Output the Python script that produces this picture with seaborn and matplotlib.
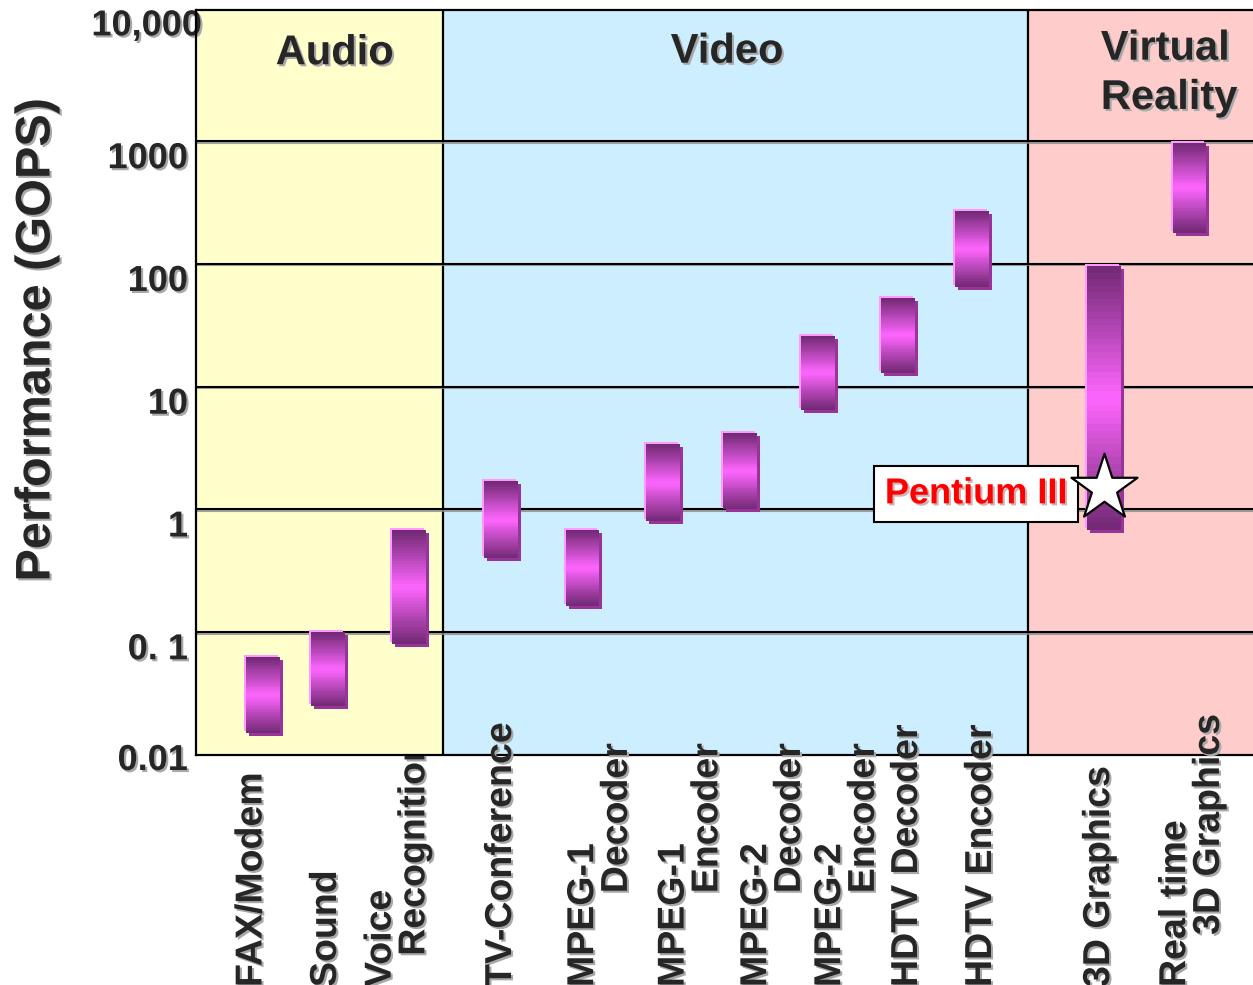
import numpy as np
import matplotlib
matplotlib.use("Agg")
import matplotlib.pyplot as plt
import matplotlib.patheffects as pe
from matplotlib import transforms
from matplotlib.colors import LinearSegmentedColormap
import seaborn as sns

# ---------------------------------------------------------------- data
applications = ["FAX/Modem", "Sound", "Voice\nRecognition", "TV-Conference",
                "MPEG-1\nDecoder", "MPEG-1\nEncoder", "MPEG-2\nDecoder",
                "MPEG-2\nEncoder", "HDTV Decoder", "HDTV Encoder",
                "3D Graphics", "Real time\n3D Graphics"]
gops_low = [0.015, 0.025, 0.08, 0.4, 0.165, 0.8, 1.0, 6.5, 13, 65, 0.68, 180]
gops_high = [0.063, 0.1, 0.68, 1.7, 0.68, 3.4, 4.2, 26, 53, 270, 96, 970]
domains = ["Audio", "Video", "Virtual\nReality"]
ytick_values = [0.01, 0.1, 1, 10, 100, 1000, 10000]
ytick_labels = ["0.01", "0. 1", "1", "10", "100", "1000", "10,000"]
pentium_label = "Pentium III"
pentium_gops = 1.5

# ---------------------------------------------------------------- layout
bar_x = [0.79, 1.56, 2.52, 3.61, 4.57, 5.52, 6.43, 7.36, 8.30, 9.18, 10.74, 11.75]
label_x = [0.656, 1.537, 2.383, 3.607, 4.778, 5.848, 6.824, 7.699, 8.408, 9.283,
           10.679, 11.779]
second_line_indent = [0, 0, 3, 0, 9, 9, 9, 9, 0, 0, 0, 5]   # leading spaces
domain_edges = [0.0, 2.92, 9.84, 12.5]
domain_colors = ["#ffffcc", "#cceeff", "#ffcccc"]
domain_title_pos = [(1.64, 0.942, "center"), (6.28, 0.944, "center"),
                    (10.70, 0.915, "left")]
tick_label_shift = {"10,000": (14, 10), "0.01": (0, 12)}   # pixels
BAR_W = 0.40
FIG_W, FIG_H, DPI = 12.53, 9.85, 100

sns.set_style("white")
plt.rcParams["font.family"] = ["Liberation Sans", "DejaVu Sans"]
plt.rcParams["font.weight"] = "bold"

shadow = [pe.withSimplePatchShadow(offset=(1.5, -1.5), shadow_rgbFace="#a8a8a8",
                                   alpha=1.0)]

fig = plt.figure(figsize=(FIG_W, FIG_H), dpi=DPI)
ax = fig.add_axes([196 / 1253, 230 / 985, 1057 / 1253, 745 / 985])
ax.set_yscale("log")
ax.set_xlim(domain_edges[0], domain_edges[-1])
ax.set_ylim(0.01, 11700)

# domain backgrounds and separators
for i, color in enumerate(domain_colors):
    ax.axvspan(domain_edges[i], domain_edges[i + 1], color=color, zorder=0.5, lw=0)
for xe in domain_edges[1:-1]:
    ax.axvline(xe, color="black", lw=1.6, zorder=1)
for v in ytick_values[1:-1]:
    ax.axhline(v, color="black", lw=1.5, zorder=1,
               path_effects=[pe.SimpleLineShadow(offset=(0, -1), shadow_color="#8a8a8a",
                                                 alpha=0.8), pe.Normal()])

# range bars: offset highlight + shadow, then a banded gradient body
cmap = LinearSegmentedColormap.from_list(
    "bar", ["#742a76", "#b848ba", "#ff66ff", "#b848ba", "#742a76"])
n_bands = 40
for x, lo, hi in zip(bar_x, gops_low, gops_high):
    for color, dx, dy in [("#993399", 3, -3), ("#ff99ff", -2, 2)]:
        off = transforms.offset_copy(ax.transData, fig=fig, x=dx, y=dy, units="dots")
        ax.bar(x, hi - lo, bottom=lo, width=BAR_W, color=color, linewidth=0,
               transform=off, zorder=3)
    edges = np.logspace(np.log10(lo), np.log10(hi), n_bands + 1)
    colors = cmap(np.linspace(0, 1, n_bands))
    ax.bar(np.full(n_bands, x), np.diff(edges), bottom=edges[:-1], width=BAR_W,
           color=colors, linewidth=0, antialiased=False, zorder=4)

# Pentium III marker on the 3D Graphics range
sns.scatterplot(x=[bar_x[10]], y=[pentium_gops], marker="*", s=2500,
                color="white", edgecolor="black", linewidth=1.6, zorder=7,
                ax=ax, legend=False)
ax.annotate(pentium_label, xy=(bar_x[10], pentium_gops), xytext=(-128, -6),
            textcoords="offset pixels", ha="center", va="center",
            fontsize=26, fontweight="bold", color="#ff0000", zorder=6,
            path_effects=[pe.withSimplePatchShadow(offset=(1.5, -1.5),
                                                   shadow_rgbFace="#d0b0b0", alpha=1.0)],
            bbox=dict(boxstyle="square,pad=0.3", fc="white", ec="black", lw=1.5))

# domain titles
for name, (tx, ty, ha) in zip(domains, domain_title_pos):
    ax.text(tx, ty, name, transform=transforms.blended_transform_factory(
        ax.transData, ax.transAxes), ha=ha, va="center", fontsize=30,
        fontweight="bold", linespacing=1.3, path_effects=shadow, zorder=8)

# axes decoration
ax.set_xticks([])
ax.set_yticks(ytick_values)
ax.set_yticklabels(ytick_labels, fontsize=26, fontweight="bold", va="top")
ax.minorticks_off()
ax.tick_params(axis="y", length=0, pad=5.8)
for lbl in ax.get_yticklabels():
    lbl.set_path_effects(shadow)
    if lbl.get_text() in tick_label_shift:
        dx, dy = tick_label_shift[lbl.get_text()]
        lbl.set_transform(lbl.get_transform() + transforms.Affine2D().translate(dx, dy))
for side in ["left", "bottom", "top"]:
    ax.spines[side].set_color("black")
    ax.spines[side].set_linewidth(1.6)
    ax.spines[side].set_zorder(9)
ax.spines["right"].set_visible(False)
ax.set_xlabel("")
ax.set_ylabel("")

fig.text(37 / 1253, 1 - 340 / 985, "Performance (GOPS)", rotation=90,
         ha="center", va="center", fontsize=35, fontweight="bold",
         path_effects=shadow)

# rotated application names under the plot (second lines indented)
lab_tr = transforms.blended_transform_factory(ax.transData, fig.transFigure)
for name, lx, indent in zip(applications, label_x, second_line_indent):
    lines = name.split("\n")
    text = lines[0] + "".join("\n" + " " * indent + ln for ln in lines[1:])
    # the long "Recognition" line runs up under the plot area
    z = -1 if name.startswith("Voice") else 3
    fig.text(lx, -0.002, text, transform=lab_tr, rotation=90,
             ha="center", va="bottom", ma="left", linespacing=0.92,
             fontsize=27, fontweight="bold", path_effects=shadow, zorder=z)

fig.savefig("out.png", dpi=DPI)
